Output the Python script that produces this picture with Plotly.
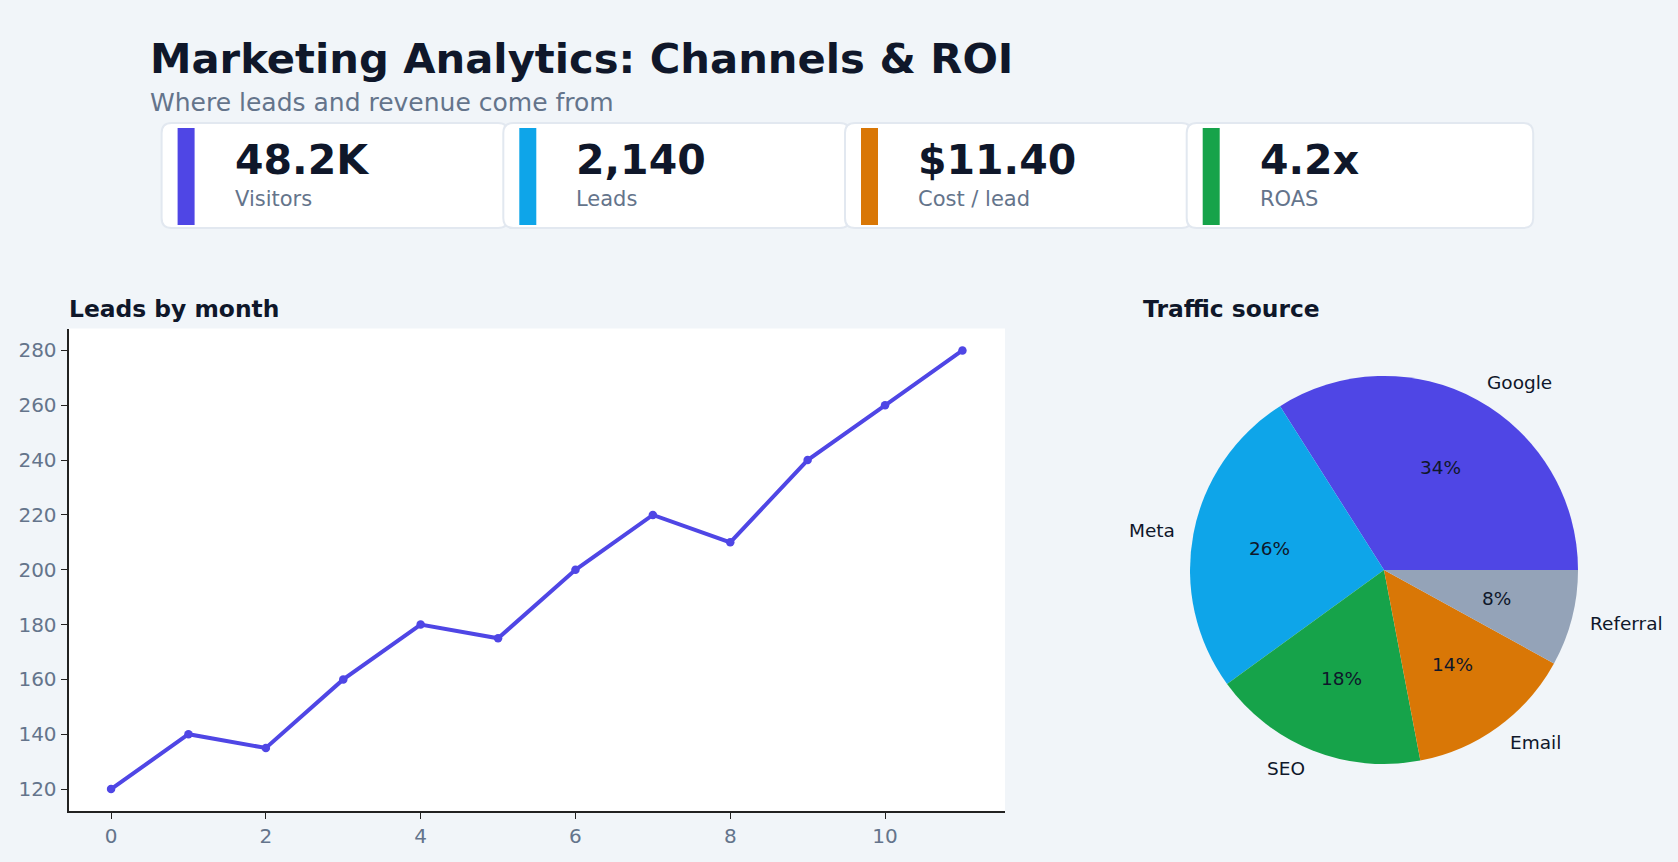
import math
import plotly.graph_objects as go

W, H = 1678, 862

# ---- data ----
months = list(range(12))
leads = [120, 140, 135, 160, 180, 175, 200, 220, 210, 240, 260, 280]

sources = ["Google", "Meta", "SEO", "Email", "Referral"]
shares = [34, 26, 18, 14, 8]
source_colors = ["#4f46e5", "#0ea5e9", "#16a34a", "#d97706", "#94a3b8"]

kpi_values = ["48.2K", "2,140", "$11.40", "4.2x"]
kpi_labels = ["Visitors", "Leads", "Cost / lead", "ROAS"]
kpi_colors = ["#4f46e5", "#0ea5e9", "#d97706", "#16a34a"]

y_ticks = [120, 140, 160, 180, 200, 220, 240, 260, 280]
x_ticks = [0, 2, 4, 6, 8, 10]

BG = "#f1f5f9"
DARK = "#0f172a"
MUTED = "#64748b"
FONT = "DejaVu Sans"


def px(x):
    return x / W


def py(y):
    return 1 - y / H


fig = go.Figure()

fig.add_trace(go.Scatter(
    x=months, y=leads, mode="lines+markers",
    line=dict(color="#4f46e5", width=4),
    marker=dict(color="#4f46e5", size=8.5),
    hoverinfo="skip", showlegend=False,
    xaxis="x", yaxis="y",
))

# pie geometry (pixels)
PCX, PCY, PR = 1384, 570, 194
total = sum(shares)
# first slice starts at 3 o'clock and runs counterclockwise
start_rot = 90 - 360 * shares[0] / total

fig.add_trace(go.Pie(
    labels=sources, values=shares, sort=False, direction="counterclockwise",
    rotation=start_rot, marker=dict(colors=source_colors, line=dict(width=0)),
    textinfo="none",
    domain=dict(x=[px(PCX - PR), px(PCX + PR)], y=[py(PCY + PR), py(PCY - PR)]),
    hoverinfo="skip", showlegend=False,
))

shapes = []
annotations = []

# pie labels (label just outside the rim, percentage at 0.6r, along each bisector)
cum = 0
for lab, v in zip(sources, shares):
    mid = math.radians(360 * (cum + v / 2) / total)
    cum += v
    c, s = math.cos(mid), math.sin(mid)
    annotations.append(dict(
        text=lab, x=px(PCX + 1.085 * PR * c), y=py(PCY - 1.1 * PR * s),
        xref="paper", yref="paper", xanchor="left" if c > 0 else "right",
        yanchor="middle", showarrow=False,
        font=dict(family=FONT, size=18.5, color=DARK)))
    annotations.append(dict(
        text=f"{round(100 * v / total)}%", x=px(PCX + 0.6 * PR * c),
        y=py(PCY - 0.6 * PR * s), xref="paper", yref="paper",
        xanchor="center", yanchor="middle", showarrow=False,
        font=dict(family=FONT, size=18.5, color=DARK)))

# KPI cards
for i, (val, lab, col) in enumerate(zip(kpi_values, kpi_labels, kpi_colors)):
    x0 = 161.6 + i * 341.7
    x1 = x0 + 346.5
    y0, y1 = 123, 228
    r = 10
    path = (f"M {px(x0 + r)} {py(y0)} L {px(x1 - r)} {py(y0)} "
            f"Q {px(x1)} {py(y0)} {px(x1)} {py(y0 + r)} "
            f"L {px(x1)} {py(y1 - r)} Q {px(x1)} {py(y1)} {px(x1 - r)} {py(y1)} "
            f"L {px(x0 + r)} {py(y1)} Q {px(x0)} {py(y1)} {px(x0)} {py(y1 - r)} "
            f"L {px(x0)} {py(y0 + r)} Q {px(x0)} {py(y0)} {px(x0 + r)} {py(y0)} Z")
    shapes.append(dict(type="path", xref="paper", yref="paper", path=path,
                       fillcolor="white", line=dict(color="#e2e8f0", width=2),
                       layer="below"))
    shapes.append(dict(type="rect", xref="paper", yref="paper",
                       x0=px(x0 + 16), x1=px(x0 + 33), y0=py(225), y1=py(128),
                       fillcolor=col, line=dict(width=0)))
    annotations.append(dict(text=f"<b>{val}</b>", x=px(x0 + 71), y=py(160),
                            xref="paper", yref="paper", xanchor="left", yanchor="middle",
                            showarrow=False, font=dict(family=FONT, size=41, color=DARK)))
    annotations.append(dict(text=lab, x=px(x0 + 71), y=py(199),
                            xref="paper", yref="paper", xanchor="left", yanchor="middle",
                            showarrow=False, font=dict(family=FONT, size=21, color=MUTED)))

annotations += [
    dict(text="<b>Marketing Analytics: Channels & ROI</b>", x=px(148), y=py(58),
         xref="paper", yref="paper", xanchor="left", yanchor="middle", showarrow=False,
         font=dict(family=FONT, size=41.7, color=DARK)),
    dict(text="Where leads and revenue come from", x=px(148), y=py(103),
         xref="paper", yref="paper", xanchor="left", yanchor="middle", showarrow=False,
         font=dict(family=FONT, size=25, color=MUTED)),
    dict(text="<b>Leads by month</b>", x=px(67), y=py(309),
         xref="paper", yref="paper", xanchor="left", yanchor="middle", showarrow=False,
         font=dict(family=FONT, size=23.4, color=DARK)),
    dict(text="<b>Traffic source</b>", x=px(1141), y=py(309),
         xref="paper", yref="paper", xanchor="left", yanchor="middle", showarrow=False,
         font=dict(family=FONT, size=23.4, color=DARK)),
]

axis_common = dict(showgrid=False, zeroline=False, showline=True, linecolor="#222222",
                   linewidth=1.8, ticks="outside", ticklen=6, tickwidth=1.4,
                   tickcolor="#222222", tickfont=dict(family=FONT, size=20, color=MUTED),
                   mirror=False)

fig.update_layout(
    width=W, height=H,
    margin=dict(l=0, r=0, t=0, b=0),
    paper_bgcolor=BG, plot_bgcolor="white",
    xaxis=dict(domain=[px(68.5), px(1005)], range=[-0.55, 11.55],
               tickvals=x_ticks, anchor="y", **axis_common),
    yaxis=dict(domain=[py(811), py(328.5)], range=[112, 288],
               tickvals=y_ticks, anchor="x", **axis_common),
    shapes=shapes, annotations=annotations,
    showlegend=False,
)

fig.write_html("out.html")
